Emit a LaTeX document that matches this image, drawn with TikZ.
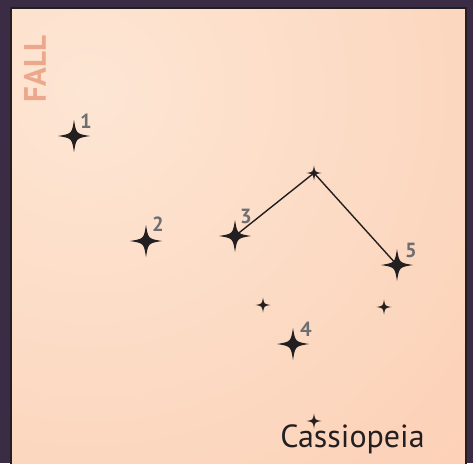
\documentclass[tikz,border=0pt]{standalone}
\usepackage{fontspec}
\setmainfont{PT Sans}
\usetikzlibrary{positioning}
\definecolor{ink}{RGB}{35,31,32}
\definecolor{night}{RGB}{58,44,68}
\definecolor{glow}{RGB}{253,230,212}
\definecolor{dusk}{RGB}{251,199,169}
\definecolor{numgray}{RGB}{109,110,113}
\definecolor{season}{RGB}{236,168,140}

\begin{document}
\begin{tikzpicture}[
    x=1pt,y=-1pt,
    num/.style={font=\bfseries\fontsize{20.5}{20.5}\selectfont,text=numgray,inner sep=0pt},
    title/.style={font=\fontsize{32}{32}\selectfont,text=ink,inner sep=0pt},
    link/.style={draw=ink,line width=1.4pt},
    pics/sparkle/.style={code={
        \fill[ink] (0,#1) .. controls (0.14*#1,0.14*#1) and (0.14*#1,0.14*#1) .. (#1,0)
            .. controls (0.14*#1,-0.14*#1) and (0.14*#1,-0.14*#1) .. (0,-#1)
            .. controls (-0.14*#1,-0.14*#1) and (-0.14*#1,-0.14*#1) .. (-#1,0)
            .. controls (-0.14*#1,0.14*#1) and (-0.14*#1,0.14*#1) .. (0,#1) -- cycle;}}
]
\useasboundingbox (0,0) rectangle (473,463);

% sky panel
\fill[night] (0,0) rectangle (473,463);
\begin{scope}
  \clip (11,8) rectangle (466,470);
  \shade[inner color=glow,outer color=dusk] (90,90) circle (760pt);
\end{scope}
\draw[ink,line width=2pt] (11,8) rectangle (466,470);

\node[rotate=90,font=\bfseries\fontsize{31}{31}\selectfont,text=season] (season) at (35,69) {FALL};

% stars
\coordinate (s1) at (74,136);
\coordinate (s2) at (146,241);
\coordinate (s3) at (235,236);
\coordinate (apex) at (314,173);
\coordinate (s5) at (397,265);
\coordinate (s4) at (293,344);
\coordinate (dimL) at (263,305);
\coordinate (dimR) at (384,307);
\coordinate (dimB) at (314,421);

\draw[link] (s3) -- (apex) -- (s5);

\pic at (s1) {sparkle=16};
\pic at (s2) {sparkle=16};
\pic at (s3) {sparkle=16};
\pic at (s4) {sparkle=16};
\pic at (s5) {sparkle=16};
\pic at (apex) {sparkle=7.5};
\pic at (dimL) {sparkle=7.5};
\pic at (dimR) {sparkle=7.5};
\pic at (dimB) {sparkle=7.5};

\node[num] (n1) at (86,121) {1};
\node[num] (n2) at (158,224) {2};
\node[num] (n3) at (246,216) {3};
\node[num] (n4) at (306,329) {4};
\node[num] (n5) at (411,250) {5};

\node[title,anchor=base] (name) at (352.5,447) {Cassiopeia};

\end{tikzpicture}
\end{document}
